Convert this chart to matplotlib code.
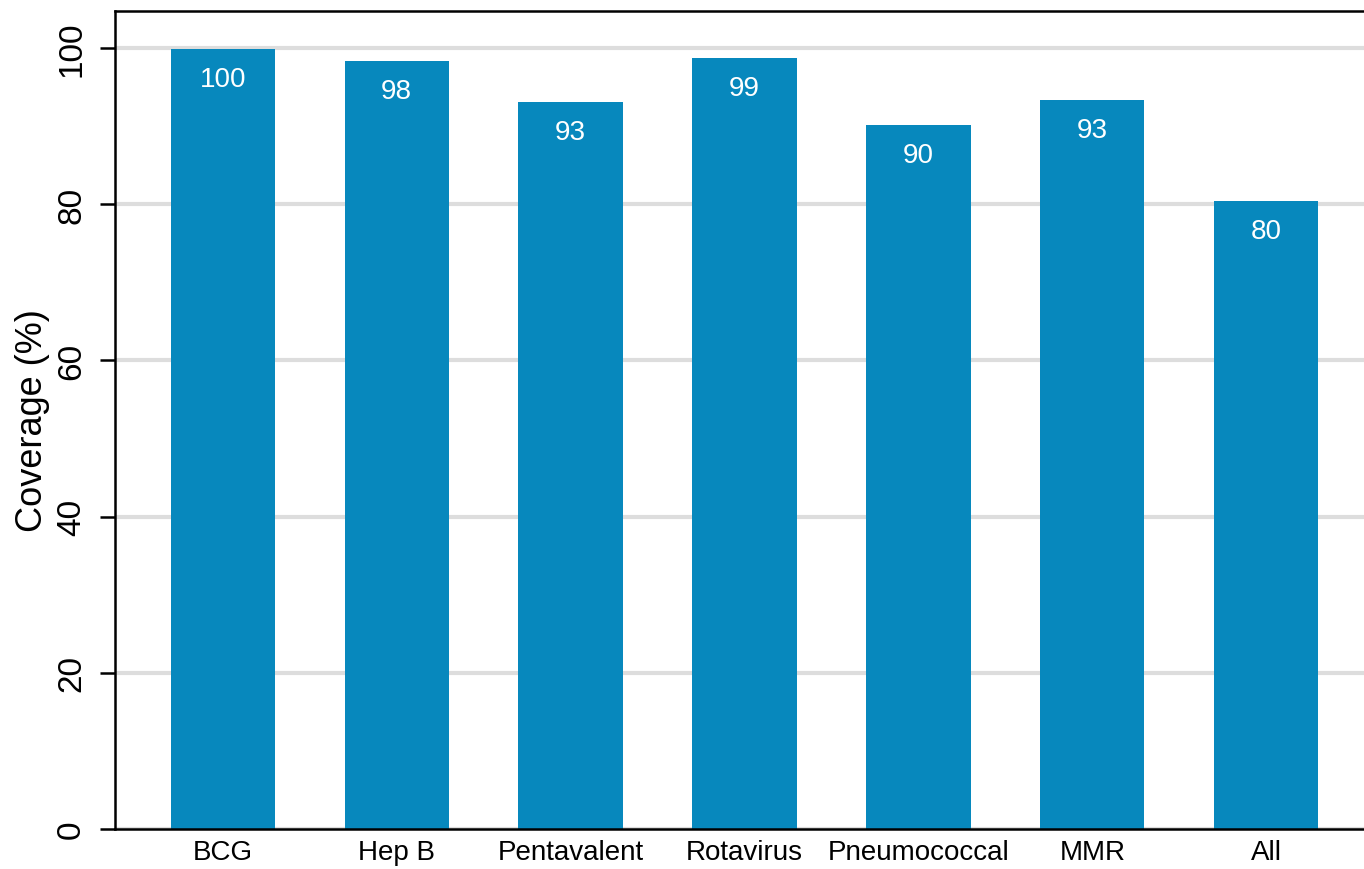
import matplotlib
matplotlib.use('Agg')
import matplotlib.pyplot as plt

plt.rcParams['font.family'] = ['Liberation Sans', 'DejaVu Sans']

vaccines = ['BCG', 'Hep B', 'Pentavalent', 'Rotavirus', 'Pneumococcal', 'MMR', 'All']
coverage = [99.9, 98.4, 93.05, 98.7, 90.1, 93.3, 80.4]
yticks = [0, 20, 40, 60, 80, 100]

bar_color = '#0788BD'

fig = plt.figure(figsize=(13.64, 8.70), dpi=100)
# axes run slightly past the right edge, like the cropped original
ax = fig.add_axes([115 / 1364, 40 / 870, 1259 / 1364, 818 / 870])

xs = range(len(vaccines))
bars = ax.bar(xs, coverage, width=0.6, color=bar_color, zorder=2)

for x, v in zip(xs, coverage):
    ax.annotate(f'{v:.0f}', (x, v), xytext=(0, -30), textcoords='offset pixels',
                ha='center', va='center', color='white', fontsize=20, zorder=3)

ax.set_xlim(-0.62, len(vaccines) - 1 + 0.62)
ax.set_ylim(0, 104.74)

ax.set_yticks(yticks)
ax.set_yticklabels([str(t) for t in yticks])
ax.set_xticks(list(xs))
ax.set_xticklabels(vaccines)

ax.tick_params(axis='y', length=11, width=1.8, pad=9, labelsize=24, labelrotation=90)
for lab in ax.get_yticklabels():
    lab.set_va('center')
ax.tick_params(axis='x', length=0, pad=7, labelsize=20)

ax.yaxis.grid(True, color='#DDDDDD', linewidth=3, zorder=0)
ax.set_axisbelow(True)

for s in ['left', 'top', 'bottom', 'right']:
    ax.spines[s].set_linewidth(1.8)
    ax.spines[s].set_color('black')

ax.set_ylabel('Coverage (%)', fontsize=26)
ax.yaxis.set_label_coords(-0.052, 0.5)

fig.savefig('out.png', dpi=100)
